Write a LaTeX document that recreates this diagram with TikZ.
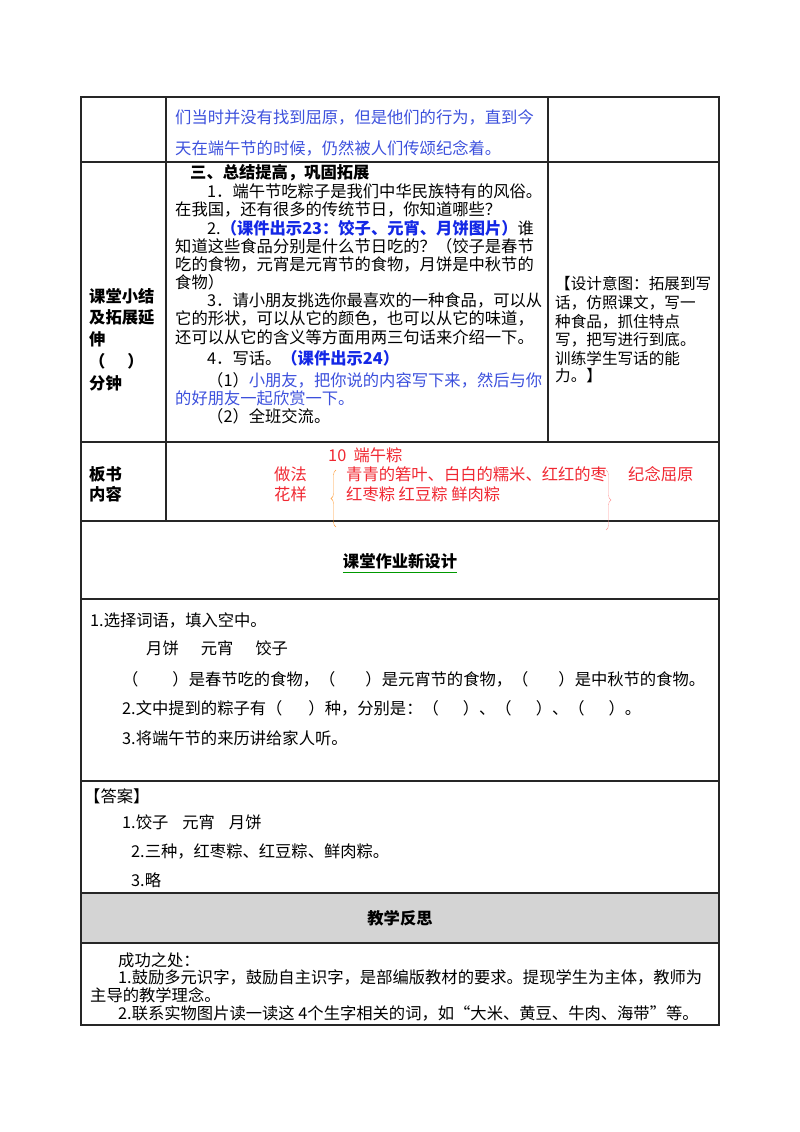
\documentclass[tikz,border=0pt]{standalone}
\usepackage{fontspec}
\setmainfont{Liberation Serif}
\newfontfamily\cjk{Noto Sans CJK SC}
\usetikzlibrary{decorations.pathreplacing}
\definecolor{bluet}{RGB}{60,80,220}
\definecolor{blueb}{RGB}{20,40,230}
\definecolor{redt}{RGB}{240,40,50}
\begin{document}
\begin{tikzpicture}[x=1pt,y=-1pt,
  t/.style={anchor=west,inner sep=0pt,font=\cjk\fontsize{16.3}{18}\selectfont},
  tr/.style={anchor=west,inner sep=0pt,font=\cjk\fontsize{15.6}{18}\selectfont},
  tb/.style={t,font=\cjk\bfseries\fontsize{16.3}{18}\selectfont},
  grid/.style={line width=1.3pt,black!85}]
\useasboundingbox (0,0) rectangle (800,1132);
\fill[black!17] (81,893) rectangle (719,943);
\draw[grid] (81,97) rectangle (719,1025);
\foreach \y in {162,442,521,599,781,893,943} \draw[grid] (81,\y) -- (719,\y);
\draw[grid] (166,97) -- (166,521);
\draw[grid] (548,97) -- (548,442);
% row 1
\node[t,text=bluet] (a1) at (175,117) {们当时并没有找到屈原，但是他们的行为，直到今};
\node[t,text=bluet] (a2) at (175,148) {天在端午节的时候，仍然被人们传颂纪念着。};
% row 2
\node[tb] (h) at (190,173) {三、总结提高，巩固拓展};
\node[t] (l1) at (207,191) {1．端午节吃粽子是我们中华民族特有的风俗。};
\node[t] (l2) at (175,209) {在我国，还有很多的传统节日，你知道哪些？};
\node[t] (l3) at (207,228) {2.\textcolor{blueb}{\bfseries（课件出示23：饺子、元宵、月饼图片）}谁};
\node[t] (l4) at (175,246) {知道这些食品分别是什么节日吃的？（饺子是春节};
\node[t] (l5) at (175,264) {吃的食物，元宵是元宵节的食物，月饼是中秋节的};
\node[t] (l6) at (175,282) {食物）};
\node[t] (l7) at (207,300) {3．请小朋友挑选你最喜欢的一种食品，可以从};
\node[t] (l8) at (175,318) {它的形状，可以从它的颜色，也可以从它的味道，};
\node[t] (l9) at (175,337) {还可以从它的含义等方面用两三句话来介绍一下。};
\node[t] (l10) at (207,358) {4．写话。\textcolor{blueb}{\bfseries（课件出示24）}};
\node[t] (l11) at (207,380) {（1）\textcolor{bluet}{小朋友，把你说的内容写下来，然后与你}};
\node[t,text=bluet] (l12) at (175,398) {的好朋友一起欣赏一下。};
\node[t] (l13) at (207,416) {（2）全班交流。};
\node[tb] (c1) at (89,296) {课堂小结};
\node[tb] (c2) at (89,317) {及拓展延};
\node[tb] (c3) at (89,339) {伸};
\node[tb] (c4) at (89,361) {（\hspace{22pt}）};
\node[tb] (c5) at (89,383) {分钟};
\node[tr] (r1) at (555,284) {【设计意图：拓展到写};
\node[tr] (r2) at (555,303) {话，仿照课文，写一};
\node[tr] (r3) at (555,322) {种食品，抓住特点};
\node[tr] (r4) at (555,340) {写，把写进行到底。};
\node[tr] (r5) at (555,358) {训练学生写话的能};
\node[tr] (r6) at (555,376) {力。】};
% board
\node[tb] (b1) at (89,474) {板书};
\node[tb] (b2) at (89,494) {内容};
\node[t,text=redt] (d0) at (328,455) {10\ \ 端午粽};
\node[t,text=redt] (d1) at (274,474) {做法};
\node[t,text=redt] (d2) at (274,494) {花样};
\node[t,text=redt] (d3) at (346,474) {青青的箬叶、白白的糯米、红红的枣};
\node[t,text=redt] (d4) at (346,494) {红枣粽\ 红豆粽\ 鲜肉粽};
\node[t,text=redt] (d5) at (628,474) {纪念屈原};
\coordinate (bl1) at (336,470); \coordinate (bl2) at (336,527);
\coordinate (br1) at (606,470); \coordinate (br2) at (606,530);
\draw[orange!80,decorate,decoration={brace,amplitude=5pt}] (bl2) -- (bl1);
\draw[red!40,decorate,decoration={brace,amplitude=5pt}] (br1) -- (br2);
% homework
\node[tb,anchor=center] (s1) at (400,561) {课堂作业新设计};
\draw[green!60!black,line width=1pt] ([yshift=-3pt]s1.south west) -- ([yshift=-3pt]s1.south east);
\node[t] (q1) at (90,620) {1.选择词语，填入空中。};
\node[t] (q2) at (146,648) {月饼\hspace{22pt}元宵\hspace{22pt}饺子};
\node[t] (q3) at (122,679) {（\hspace{34pt}）是春节吃的食物，（\hspace{30pt}）是元宵节的食物，（\hspace{30pt}）是中秋节的食物。};
\node[t] (q4) at (122,708) {2.文中提到的粽子有（\hspace{26pt}）种，分别是：（\hspace{24pt}）、（\hspace{24pt}）、（\hspace{24pt}）。};
\node[t] (q5) at (122,738) {3.将端午节的来历讲给家人听。};
% answers
\node[t] (k0) at (84,796) {【答案】};
\node[t] (k1) at (122,822) {1.饺子\hspace{14pt}元宵\hspace{14pt}月饼};
\node[t] (k2) at (131,851) {2.三种，红枣粽、红豆粽、鲜肉粽。};
\node[t] (k3) at (131,880) {3.略};
\node[tb,anchor=center] (f0) at (400,918) {教学反思};
\node[t] (f1) at (118,960) {成功之处：};
\node[t] (f2) at (118,977) {1.鼓励多元识字，鼓励自主识字，是部编版教材的要求。提现学生为主体，教师为};
\node[t] (f3) at (90,995) {主导的教学理念。};
\node[t] (f4) at (118,1013) {2.联系实物图片读一读这\ 4个生字相关的词，如“大米、黄豆、牛肉、海带”等。};
\end{tikzpicture}
\end{document}
